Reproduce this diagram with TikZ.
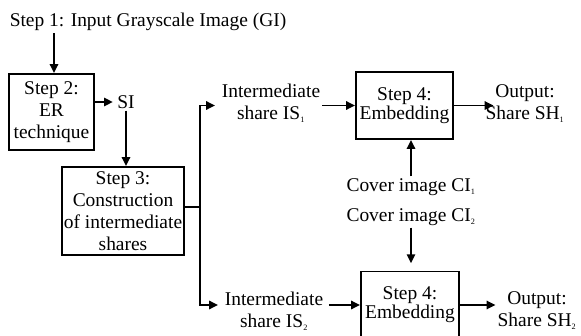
\documentclass[tikz,border=0pt]{standalone}
\usepackage{fontspec}
\setmainfont{Liberation Serif}
\usetikzlibrary{arrows.meta,calc}
\newcommand\idx[1]{\textsubscript{\fontsize{7}{7}\selectfont#1}}

\begin{document}
\begin{tikzpicture}[x=0.03cm,y=-0.03cm,line width=1.7pt,
        every node/.style={inner sep=1pt,align=center,font=\fontsize{16.6}{18.8}\selectfont},
        stepbox/.style 2 args={draw,inner sep=0pt,minimum width=#1*0.03cm,minimum height=#2*0.03cm},
        >={Triangle[length=7.5pt,width=7pt]}]
       \useasboundingbox (0,0) rectangle (581,336);
       \node (step1) at (148,22) {Step 1: Input Grayscale Image (GI)};
       \node[stepbox={85}{76}] (step2) at (51.5,112) {Step 2:\\ER\\technique};
       \node (si) at (126,102) {SI};
       \node[stepbox={122}{88}] (step3) at (123,211) {Step 3:\\Construction\\of intermediate\\shares};
       \coordinate (split) at (200,207);
       \node (is1) at (271,103) {Intermediate\\share IS\idx{1}};
       \node (is2) at (274,311) {Intermediate\\share IS\idx{2}};
       \node[stepbox={97}{67},font=\fontsize{16.6}{15}\selectfont] (emb1) at (404.5,105.5) {Step 4:\\Embedding};
       \node[stepbox={98}{67},font=\fontsize{16.6}{15}\selectfont] (emb2) at (410,305) {Step 4:\\Embedding};
       \node (out1) at (525,104) {Output:\\Share SH\idx{1}};
       \node (out2) at (537,311) {Output:\\Share SH\idx{2}};
       \node (ci1) at (411,187) {Cover image CI\idx{1}};
       \node (ci2) at (411,217) {Cover image CI\idx{2}};
       % connectors
       \draw[->](step1.south -| 54,0)--(step2.north -| 54,0);
       \draw[->,shorten >=2pt](step2.east |- si.west)--(si.west);
       \draw[->](si.south)--(si.south |- step3.north);
       \draw(step3.east |- split)--(split);
       \draw[->,shorten >=4pt](split)|-(is1.west |- emb1);
       \draw[->,shorten >=4pt](split)|-(is2.west |- emb2);
       \draw[->](is1.east |- emb1)--(emb1.west);
       \draw[->,shorten <=3pt](is2.east |- emb2)--(emb2.west);
       \draw[->](emb1.east)--([xshift=0.3cm]emb1.east -| out1.west);
       \draw[->](emb2.east)--(emb2.east -| out2.west);
       \draw[->](ci1.north)--(ci1.north |- emb1.south);
       \draw[->,shorten >=0.22cm](ci2.south)--(ci2.south |- emb2.north);
    \end{tikzpicture}
\end{document}
